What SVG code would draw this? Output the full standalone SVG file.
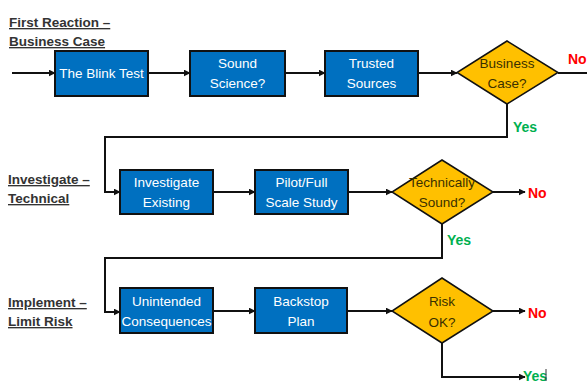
<svg xmlns="http://www.w3.org/2000/svg" width="587" height="381" viewBox="0 0 587 381">
  <style>
    .box { fill: #0070C0; stroke: #111; stroke-width: 2; }
    .dia { fill: #FFC000; stroke: #111; stroke-width: 1.5; }
    .bt { font-family: "Liberation Sans Narrow", "Liberation Sans", Arial, sans-serif; font-stretch: condensed; font-size: 13.5px; fill: #fff; text-anchor: middle; }
    .dt { font-family: "Liberation Sans Narrow", "Liberation Sans", Arial, sans-serif; font-stretch: condensed; font-size: 13.5px; fill: #3a3000; text-anchor: middle; }
    .stage { font-family: "Liberation Sans Narrow", "Liberation Sans", Arial, sans-serif; font-stretch: condensed; font-size: 13.5px; font-weight: bold; fill: #333; text-decoration: underline; }
    .no { font-family: "Liberation Sans Narrow", "Liberation Sans", Arial, sans-serif; font-stretch: condensed; font-size: 14px; font-weight: bold; fill: #FF0000; }
    .yes { font-family: "Liberation Sans Narrow", "Liberation Sans", Arial, sans-serif; font-stretch: condensed; font-size: 14px; font-weight: bold; fill: #00B050; }
    .ln { fill: none; stroke: #111; stroke-width: 2; }
  </style>
  <defs>
    <marker id="arr" viewBox="0 0 10 10" refX="9" refY="5" markerWidth="3.5" markerHeight="3.5" orient="auto">
      <path d="M0,0 L10,5 L0,10 z" fill="#111"/>
    </marker>
  </defs>
  <rect width="587" height="381" fill="#fff"/>

  <!-- stage headings -->
  <g id="stage-1">
    <text class="stage" x="9" y="27">First Reaction –</text>
    <text class="stage" x="9" y="46">Business Case</text>
  </g>
  <g id="stage-2">
    <text class="stage" x="8" y="184">Investigate –</text>
    <text class="stage" x="8" y="203">Technical</text>
  </g>
  <g id="stage-3">
    <text class="stage" x="8" y="307">Implement  –</text>
    <text class="stage" x="8" y="326">Limit Risk</text>
  </g>

  <!-- connectors -->
  <g id="connectors">
    <path class="ln" d="M12,73 H55" marker-end="url(#arr)"/>
    <path class="ln" d="M148,73 H190" marker-end="url(#arr)"/>
    <path class="ln" d="M285,73 H325" marker-end="url(#arr)"/>
    <path class="ln" d="M418,73 H457" marker-end="url(#arr)"/>
    <path class="ln" d="M558,73 H587"/>
    <path class="ln" d="M507,104 V137 H105 V192 H120" marker-end="url(#arr)"/>
    <path class="ln" d="M213,192 H255" marker-end="url(#arr)"/>
    <path class="ln" d="M348,192 H392" marker-end="url(#arr)"/>
    <path class="ln" d="M493,192 H525" marker-end="url(#arr)"/>
    <path class="ln" d="M442,224 V258 H105 V312 H120" marker-end="url(#arr)"/>
    <path class="ln" d="M213,311 H255" marker-end="url(#arr)"/>
    <path class="ln" d="M347,311 H392" marker-end="url(#arr)"/>
    <path class="ln" d="M493,311 H525" marker-end="url(#arr)"/>
    <path class="ln" d="M442,343 V377 H525" marker-end="url(#arr)"/>
  </g>

  <!-- row 1 -->
  <g id="blink-test">
    <rect class="box" x="55" y="51" width="93" height="45"/>
    <text class="bt" x="101.5" y="78">The Blink Test</text>
  </g>
  <g id="sound-science">
    <rect class="box" x="190" y="51" width="95" height="45"/>
    <text class="bt" x="237.5" y="68">Sound</text>
    <text class="bt" x="237.5" y="88">Science?</text>
  </g>
  <g id="trusted-sources">
    <rect class="box" x="325" y="51" width="93" height="45"/>
    <text class="bt" x="371.5" y="68">Trusted</text>
    <text class="bt" x="371.5" y="88">Sources</text>
  </g>
  <g id="business-case">
    <polygon class="dia" points="507,41 558,72.5 507,104 457,72.5"/>
    <text class="dt" x="507" y="68">Business</text>
    <text class="dt" x="507" y="88">Case?</text>
    <text class="no" x="568" y="64">No</text>
    <text class="yes" x="513" y="132">Yes</text>
  </g>

  <!-- row 2 -->
  <g id="investigate-existing">
    <rect class="box" x="120" y="170" width="93" height="44"/>
    <text class="bt" x="166.5" y="187">Investigate</text>
    <text class="bt" x="166.5" y="207">Existing</text>
  </g>
  <g id="pilot-study">
    <rect class="box" x="255" y="170" width="93" height="44"/>
    <text class="bt" x="301.5" y="187">Pilot/Full</text>
    <text class="bt" x="301.5" y="207">Scale Study</text>
  </g>
  <g id="technically-sound">
    <polygon class="dia" points="442,160 493,192 442,224 392,192"/>
    <text class="dt" x="442" y="187">Technically</text>
    <text class="dt" x="442" y="207">Sound?</text>
    <text class="no" x="528" y="198">No</text>
    <text class="yes" x="447" y="245">Yes</text>
  </g>

  <!-- row 3 -->
  <g id="unintended-consequences">
    <rect class="box" x="120" y="288" width="93" height="45"/>
    <text class="bt" x="166.5" y="306">Unintended</text>
    <text class="bt" x="166.5" y="326">Consequences</text>
  </g>
  <g id="backstop-plan">
    <rect class="box" x="255" y="288" width="92" height="45"/>
    <text class="bt" x="301" y="306">Backstop</text>
    <text class="bt" x="301" y="326">Plan</text>
  </g>
  <g id="risk-ok">
    <polygon class="dia" points="442,278 493,311 442,343 392,311"/>
    <text class="dt" x="442" y="306">Risk</text>
    <text class="dt" x="442" y="327">OK?</text>
    <text class="no" x="528" y="318">No</text>
    <text class="yes" x="523" y="381">Yes</text>
    <line x1="546" y1="369" x2="546" y2="381" stroke="#333" stroke-width="1"/>
  </g>
</svg>
